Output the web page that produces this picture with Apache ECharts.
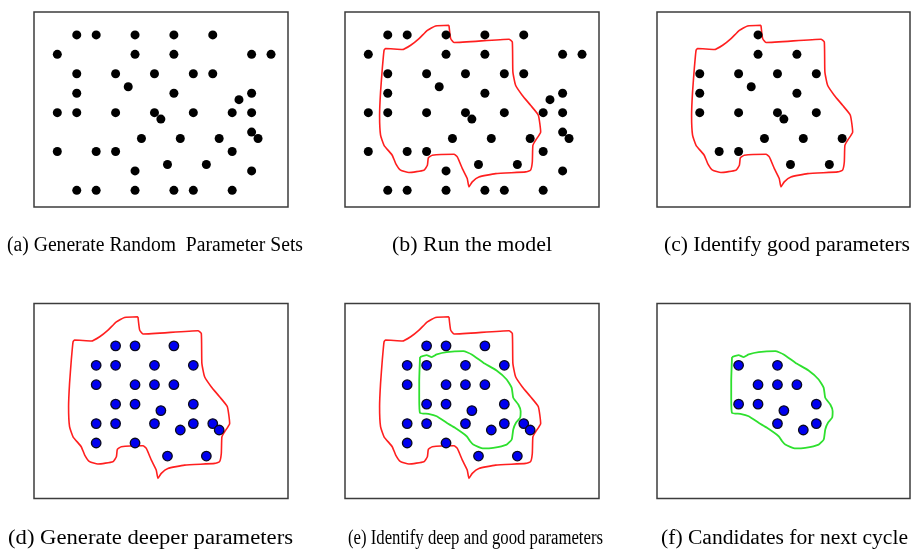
<!DOCTYPE html>
<html>
<head>
<meta charset="utf-8">
<script src="https://cdn.jsdelivr.net/npm/echarts@6/dist/echarts.min.js"></script>
<style>
  html, body { margin: 0; padding: 0; background: #fff; }
  #chart { width: 914px; height: 550px; }
</style>
</head>
<body>
<div id="chart"></div>
<script>
// Parameter sets on the sampling lattice: [column, row], row 0 at the top.
const randomSets = [
  [1, 0], [2, 0], [4, 0], [6, 0], [8, 0],
  [0, 1], [4, 1], [6, 1], [10, 1], [11, 1],
  [1, 2], [3, 2], [5, 2], [7, 2], [8, 2],
  [3.65, 2.67],
  [1, 3], [6, 3], [10, 3],
  [9.35, 3.33],
  [0, 4], [1, 4], [3, 4], [5, 4], [7, 4], [9, 4], [10, 4],
  [5.33, 4.33],
  [10, 5], [10.33, 5.33],
  [4.33, 5.33], [6.33, 5.33], [8.33, 5.33],
  [0, 6], [2, 6], [3, 6], [9, 6],
  [5.67, 6.67], [7.67, 6.67],
  [4, 7], [10, 7],
  [1, 8], [2, 8], [4, 8], [6, 8], [7, 8], [9, 8]
];

const goodSets = [
  [4, 0], [4, 1], [6, 1],
  [1, 2], [3, 2], [5, 2], [7, 2], [3.65, 2.67],
  [1, 3], [6, 3],
  [1, 4], [3, 4], [5, 4], [7, 4], [5.33, 4.33],
  [4.33, 5.33], [6.33, 5.33], [8.33, 5.33],
  [2, 6], [3, 6], [5.67, 6.67], [7.67, 6.67]
];

const deeperSets = [
  [3, 1], [4, 1], [6, 1],
  [2, 2], [3, 2], [5, 2], [7, 2],
  [2, 3], [4, 3], [5, 3], [6, 3],
  [3, 4], [4, 4], [7, 4], [5.33, 4.33],
  [2, 5], [3, 5], [5, 5], [7, 5], [8, 5], [6.33, 5.33], [8.33, 5.33],
  [2, 6], [4, 6], [5.67, 6.67], [7.67, 6.67]
];

const deepGoodSets = [
  [3, 2], [5, 2],
  [4, 3], [5, 3], [6, 3],
  [3, 4], [4, 4], [7, 4], [5.33, 4.33],
  [5, 5], [7, 5], [6.33, 5.33]
];

// Outline of the good-parameter region
const goodRegion = [
  [4.15, -0.50], [4.24, 0.19], [4.41, 0.39], [7.24, 0.22], [7.41, 0.36],
  [7.44, 1.90], [7.58, 2.59], [7.92, 3.10], [8.35, 3.62], [8.75, 4.13],
  [8.87, 4.99], [8.61, 5.42], [8.47, 5.68], [8.44, 6.54], [8.35, 6.96],
  [8.10, 7.05], [6.55, 7.14], [5.69, 7.31], [5.35, 7.56], [5.18, 7.82],
  [5.09, 7.39], [4.84, 6.88], [4.58, 6.28], [4.41, 6.14], [3.29, 6.19],
  [3.09, 6.33], [3.04, 6.71], [2.86, 6.96], [2.09, 7.08], [1.66, 6.96],
  [1.41, 6.62], [1.23, 6.19], [0.81, 5.68], [0.63, 5.16], [0.58, 4.13],
  [0.63, 2.93], [0.72, 1.73], [0.81, 0.79], [0.89, 0.70], [1.75, 0.75],
  [2.18, 0.53], [2.61, 0.19], [3.04, -0.24], [3.46, -0.46]
];

// Outline of the deep-and-good region
const deepRegion = [
  [2.66, 1.58], [3.00, 1.48], [3.26, 1.58], [3.52, 1.44], [4.03, 1.32],
  [4.89, 1.27], [5.32, 1.44], [5.92, 1.87], [6.60, 2.27], [7.12, 2.73],
  [7.38, 3.16], [7.46, 3.67], [7.72, 4.02], [7.84, 4.36], [7.81, 4.70],
  [7.60, 4.96], [7.46, 5.30], [7.38, 5.82], [7.12, 6.08], [6.43, 6.25],
  [5.92, 6.28], [5.40, 6.08], [5.23, 5.90], [5.06, 5.65], [4.46, 5.22],
  [4.03, 4.96], [3.52, 4.62], [3.09, 4.50], [2.66, 4.45], [2.62, 3.67],
  [2.62, 2.82]
];

const captions = [
  '(a) Generate Random  Parameter Sets',
  '(b) Run the model',
  '(c) Identify good parameters',
  '(d) Generate deeper parameters',
  '(e) Identify deep and good parameters',
  '(f) Candidates for next cycle'
];

// ---- layout ----
const UNIT = 19.43;          // pixels per lattice step
const X0 = -1.2, Y0 = -1.18; // lattice value at each frame's left / top edge

const frames = [
  { left: 34,  top: 12,    width: 254, height: 195 },
  { left: 345, top: 12,    width: 254, height: 195 },
  { left: 657, top: 12,    width: 253, height: 195 },
  { left: 34,  top: 303.5, width: 254, height: 195 },
  { left: 345, top: 303.5, width: 254, height: 195 },
  { left: 657, top: 303.5, width: 253, height: 195 }
];

const captionLayout = [
  { cx: 155,   cy: 246, w: 296 },
  { cx: 472,   cy: 246, w: 160 },
  { cx: 787,   cy: 246, w: 246 },
  { cx: 150.5, cy: 539, w: 285 },
  { cx: 475.5, cy: 539, w: 255 },
  { cx: 784.5, cy: 539, w: 247 }
];

const CAPTION_FONT = '20px "Liberation Serif"';

const blackDot = { color: '#000', opacity: 1 };
const blueDot = { color: '#0000f0', borderColor: '#0a0a20', borderWidth: 1.3, opacity: 1 };

function closed(path) { return path.concat([path[0]]); }

function dots(gi, data, style, size) {
  return {
    type: 'scatter', xAxisIndex: gi, yAxisIndex: gi, data: data,
    symbolSize: size, itemStyle: style, z: 5, silent: true
  };
}
function outline(gi, path, color, width) {
  return {
    type: 'line', xAxisIndex: gi, yAxisIndex: gi, data: closed(path),
    showSymbol: false, symbol: 'none', smooth: 0.15,
    lineStyle: { color: color, width: width, opacity: 1 }, z: 3, silent: true
  };
}

const RED = '#ff1f1f', GREEN = '#2ee02e';

const grids = [], xAxes = [], yAxes = [];
frames.forEach(function (f, i) {
  grids.push({
    left: f.left, top: f.top, width: f.width, height: f.height,
    show: true, borderColor: '#3c3c3c', borderWidth: 1.5, backgroundColor: '#fff'
  });
  xAxes.push({
    type: 'value', gridIndex: i, min: X0, max: X0 + f.width / UNIT, show: false
  });
  yAxes.push({
    type: 'value', gridIndex: i, inverse: true, min: Y0, max: Y0 + f.height / UNIT, show: false
  });
});

const series = [
  dots(0, randomSets, blackDot, 9),
  outline(1, goodRegion, RED, 1.6),
  dots(1, randomSets, blackDot, 9),
  outline(2, goodRegion, RED, 1.6),
  dots(2, goodSets, blackDot, 9),
  outline(3, goodRegion, RED, 1.6),
  dots(3, deeperSets, blueDot, 9.5),
  outline(4, goodRegion, RED, 1.6),
  outline(4, deepRegion, GREEN, 1.8),
  dots(4, deeperSets, blueDot, 9.5),
  outline(5, deepRegion, GREEN, 1.8),
  dots(5, deepGoodSets, blueDot, 9.5)
];

// Caption text, stretched horizontally to its set width
const measure = document.createElement('canvas').getContext('2d');
measure.font = CAPTION_FONT;
const captionGraphics = captions.map(function (text, i) {
  const c = captionLayout[i];
  const natural = measure.measureText(text).width;
  return {
    type: 'text', x: c.cx, y: c.cy, scaleX: c.w / natural, silent: true,
    style: {
      text: text, font: CAPTION_FONT, fill: '#000',
      align: 'center', verticalAlign: 'middle',
      textAlign: 'center', textVerticalAlign: 'middle'
    }
  };
});

const chart = echarts.init(document.getElementById('chart'), null, { renderer: 'canvas' });
chart.setOption({
  animation: false,
  backgroundColor: '#fff',
  grid: grids,
  xAxis: xAxes,
  yAxis: yAxes,
  series: series,
  graphic: captionGraphics
});
</script>
</body>
</html>
